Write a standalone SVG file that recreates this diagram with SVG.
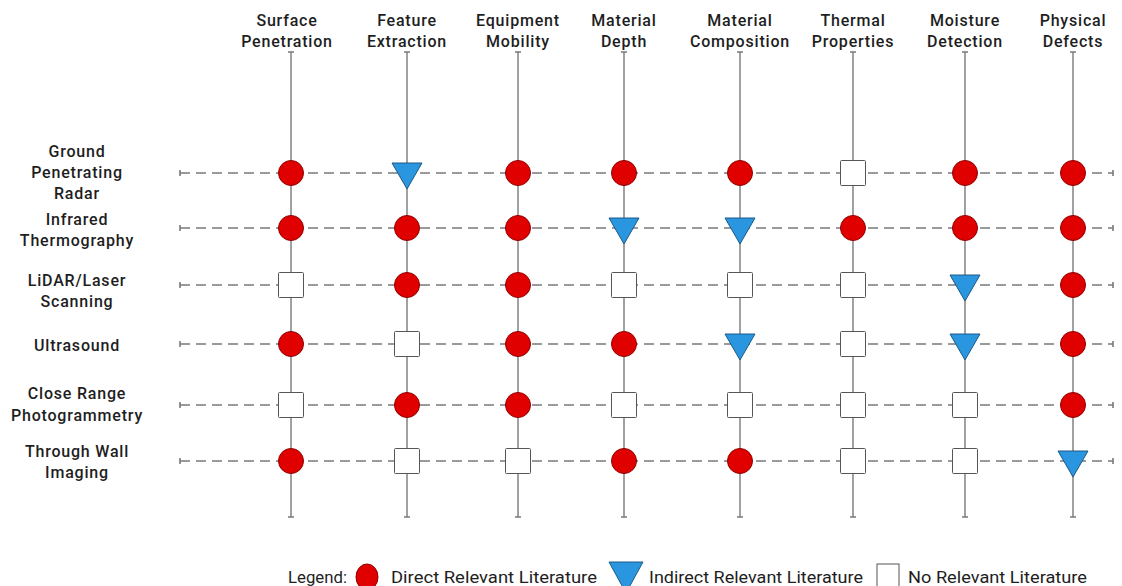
<svg xmlns="http://www.w3.org/2000/svg" width="1122" height="586" viewBox="0 0 1122 586">
<style>
.t{font-family:Roboto,"Liberation Sans",Arial,sans-serif;font-weight:500;font-size:16px;fill:#1e1e1e;letter-spacing:0.8px;text-anchor:middle}
.lg{font-family:Roboto,"Liberation Sans",Arial,sans-serif;font-size:16.5px;fill:#1e1e1e}
.v{stroke:#8a8a8a;stroke-width:1.6;fill:none}
.h{stroke:#7a7a7a;stroke-width:1.6;stroke-dasharray:10 6;fill:none}
.cap{stroke:#7a7a7a;stroke-width:1.6;fill:none}
.c{fill:#e00000;stroke:#8f0000;stroke-width:1}
.tr{fill:#2a96e0;stroke:#1d5a88;stroke-width:1}
.s{fill:#fff;stroke:#555;stroke-width:1}
</style>
<defs>
<circle id="C" class="c" r="12.5"/>
<polygon id="T" class="tr" points="-15,-10 15,-10 0,16"/>
<rect id="S" class="s" x="-12.5" y="-12.5" width="25" height="25" rx="1"/>
</defs>
<rect width="1122" height="586" fill="#fff"/>
<g id="connectors">
<g id="verticals">
<path class="v" d="M291,52V517M407,52V517M518,52V517M624,52V517M740,52V517M853,52V517M965,52V517M1073,52V517"/>
<path class="cap" d="M288,52h6M404,52h6M515,52h6M621,52h6M737,52h6M850,52h6M962,52h6M1070,52h6M288,517h6M404,517h6M515,517h6M621,517h6M737,517h6M850,517h6M962,517h6M1070,517h6"/>
</g>
<g id="horizontals">
<path class="h" d="M180,173H1113M180,228H1113M180,285H1113M180,344H1113M180,405H1113M180,461H1113"/>
<path class="cap" d="M180,170v6M1113,170v6M180,225v6M1113,225v6M180,282v6M1113,282v6M180,341v6M1113,341v6M180,402v6M1113,402v6M180,458v6M1113,458v6"/>
</g>
</g>
<g id="col-headers">
<g id="col-surface"><text class="t" x="287" y="26">Surface</text><text class="t" x="287" y="47">Penetration</text></g>
<g id="col-feature"><text class="t" x="407" y="26">Feature</text><text class="t" x="407" y="47">Extraction</text></g>
<g id="col-equipment"><text class="t" x="518" y="26">Equipment</text><text class="t" x="518" y="47">Mobility</text></g>
<g id="col-depth"><text class="t" x="624" y="26">Material</text><text class="t" x="624" y="47">Depth</text></g>
<g id="col-composition"><text class="t" x="740" y="26">Material</text><text class="t" x="740" y="47">Composition</text></g>
<g id="col-thermal"><text class="t" x="853" y="26">Thermal</text><text class="t" x="853" y="47">Properties</text></g>
<g id="col-moisture"><text class="t" x="965" y="26">Moisture</text><text class="t" x="965" y="47">Detection</text></g>
<g id="col-defects"><text class="t" x="1073" y="26">Physical</text><text class="t" x="1073" y="47">Defects</text></g>
</g>
<g id="row-headers">
<g id="row-gpr"><text class="t" x="77" y="157">Ground</text><text class="t" x="77" y="178">Penetrating</text><text class="t" x="77" y="199">Radar</text></g>
<g id="row-ir"><text class="t" x="77" y="225">Infrared</text><text class="t" x="77" y="246">Thermography</text></g>
<g id="row-lidar"><text class="t" x="77" y="286">LiDAR/Laser</text><text class="t" x="77" y="307">Scanning</text></g>
<g id="row-us"><text class="t" x="77" y="351">Ultrasound</text></g>
<g id="row-crp"><text class="t" x="77" y="399">Close Range</text><text class="t" x="77" y="421">Photogrammetry</text></g>
<g id="row-twi"><text class="t" x="77" y="457">Through Wall</text><text class="t" x="77" y="478">Imaging</text></g>
</g>
<g id="cells">
<g id="r1">
<use href="#C" x="291" y="173"/><use href="#T" x="407" y="173"/><use href="#C" x="518" y="173"/><use href="#C" x="624" y="173"/><use href="#C" x="740" y="173"/><use href="#S" x="853" y="173"/><use href="#C" x="965" y="173"/><use href="#C" x="1073" y="173"/>
</g>
<g id="r2">
<use href="#C" x="291" y="228"/><use href="#C" x="407" y="228"/><use href="#C" x="518" y="228"/><use href="#T" x="624" y="228"/><use href="#T" x="740" y="228"/><use href="#C" x="853" y="228"/><use href="#C" x="965" y="228"/><use href="#C" x="1073" y="228"/>
</g>
<g id="r3">
<use href="#S" x="291" y="285"/><use href="#C" x="407" y="285"/><use href="#C" x="518" y="285"/><use href="#S" x="624" y="285"/><use href="#S" x="740" y="285"/><use href="#S" x="853" y="285"/><use href="#T" x="965" y="285"/><use href="#C" x="1073" y="285"/>
</g>
<g id="r4">
<use href="#C" x="291" y="344"/><use href="#S" x="407" y="344"/><use href="#C" x="518" y="344"/><use href="#C" x="624" y="344"/><use href="#T" x="740" y="344"/><use href="#S" x="853" y="344"/><use href="#T" x="965" y="344"/><use href="#C" x="1073" y="344"/>
</g>
<g id="r5">
<use href="#S" x="291" y="405"/><use href="#C" x="407" y="405"/><use href="#C" x="518" y="405"/><use href="#S" x="624" y="405"/><use href="#S" x="740" y="405"/><use href="#S" x="853" y="405"/><use href="#S" x="965" y="405"/><use href="#C" x="1073" y="405"/>
</g>
<g id="r6">
<use href="#C" x="291" y="461"/><use href="#S" x="407" y="461"/><use href="#S" x="518" y="461"/><use href="#C" x="624" y="461"/><use href="#C" x="740" y="461"/><use href="#S" x="853" y="461"/><use href="#S" x="965" y="461"/><use href="#T" x="1073" y="461"/>
</g>
</g>
<g id="legend">
<text class="lg" x="288" y="583" textLength="59" lengthAdjust="spacingAndGlyphs">Legend:</text>
<ellipse class="c" cx="367" cy="577" rx="11" ry="13"/>
<text class="lg" x="391" y="583" textLength="206" lengthAdjust="spacingAndGlyphs">Direct Relevant Literature</text>
<polygon class="tr" points="609,562 643,562 626,593"/>
<text class="lg" x="649" y="583" textLength="214" lengthAdjust="spacingAndGlyphs">Indirect Relevant Literature</text>
<rect class="s" x="877" y="564" width="22" height="26"/>
<text class="lg" x="908" y="583" textLength="179" lengthAdjust="spacingAndGlyphs">No Relevant Literature</text>
</g>
</svg>
